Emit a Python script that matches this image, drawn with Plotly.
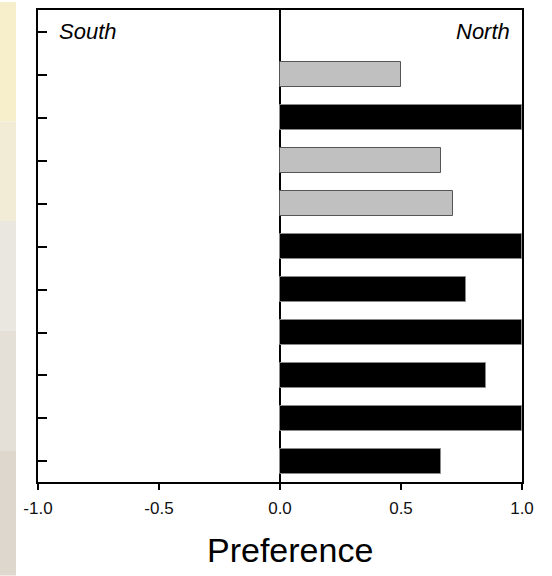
import plotly.graph_objects as go

# Data (top to bottom as drawn)
values = [0.5, 1.0, 0.667, 0.714, 1.0, 0.77, 1.0, 0.85, 1.0, 0.667]
groups = ["grey", "black", "grey", "grey", "black", "black", "black", "black", "black", "black"]
x_ticks = [-1.0, -0.5, 0.0, 0.5, 1.0]
x_ticktext = ["-1.0", "-0.5", "0.0", "0.5", "1.0"]
side_labels = ["South", "North"]
x_title = "Preference"

n = len(values)
ypos = [n - 1 - i for i in range(n)]  # top bar highest
fill = {"grey": "#c0c0c0", "black": "#000000"}
edge = {"grey": "#555555", "black": "#8a8a8a"}

fig = go.Figure()
fig.add_trace(go.Bar(
    x=values, y=ypos, orientation="h", base=0,
    width=0.58,
    marker=dict(color=[fill[g] for g in groups],
                line=dict(color=[edge[g] for g in groups], width=1)),
    showlegend=False, hoverinfo="x",
))

W, H = 552, 576
ml, mr, mt, mb = 38, 30, 8, 94
pw, ph = W - ml - mr, H - mt - mb

def px_x(p):
    return (p - ml) / pw

def px_y(p):
    return (H - mb - p) / ph

# decorative textured strip on the left edge
bands = [(0, 120, "#f7efcc"), (120, 220, "#f2ecd6"), (220, 330, "#eae7e0"),
         (330, 450, "#e4e0d8"), (450, 576, "#ddd7cd")]
shapes = []
for y0, y1, c in bands:
    shapes.append(dict(type="rect", xref="paper", yref="paper",
                       x0=px_x(0), x1=px_x(16), y0=px_y(y1), y1=px_y(y0),
                       fillcolor=c, line=dict(width=0), layer="below"))

fig.update_layout(
    width=W, height=H,
    margin=dict(l=ml, r=mr, t=mt, b=mb),
    paper_bgcolor="white", plot_bgcolor="white",
    shapes=shapes,
    bargap=0,
    xaxis=dict(range=[-1, 1], tickvals=x_ticks, ticktext=x_ticktext,
               ticks="outside", ticklen=6, tickwidth=2, tickcolor="black",
               ticklabelstandoff=4,
               showline=True, linewidth=2, linecolor="black", mirror=True,
               showgrid=False, zeroline=True, zerolinecolor="black", zerolinewidth=1.5,
               tickfont=dict(family="Liberation Sans, Arial", size=17, color="#111")),
    yaxis=dict(range=[-0.48, n + 0.51], tickvals=list(range(n + 1)),
               ticks="inside", ticklen=9, tickwidth=2, tickcolor="black",
               showticklabels=False,
               showline=True, linewidth=2, linecolor="black", mirror=True,
               showgrid=False, zeroline=False),
    annotations=[
        dict(x=-0.921, y=n, xref="x", yref="y", text=side_labels[0], showarrow=False,
             xanchor="left", yanchor="middle",
             font=dict(family="Liberation Sans, Arial", size=22, color="black", style="italic")),
        dict(x=0.959, y=n, xref="x", yref="y", text=side_labels[1], showarrow=False,
             xanchor="right", yanchor="middle",
             font=dict(family="Liberation Sans, Arial", size=22, color="black", style="italic")),
        dict(x=px_x(290), y=px_y(550), xref="paper", yref="paper", text=x_title,
             showarrow=False, xanchor="center", yanchor="middle",
             font=dict(family="Liberation Sans, Arial", size=34, color="black")),
    ],
)

fig.write_html("out.html",
               config={"displayModeBar": False},
               post_script="document.body.style.margin='0';document.body.style.overflow='hidden';")
